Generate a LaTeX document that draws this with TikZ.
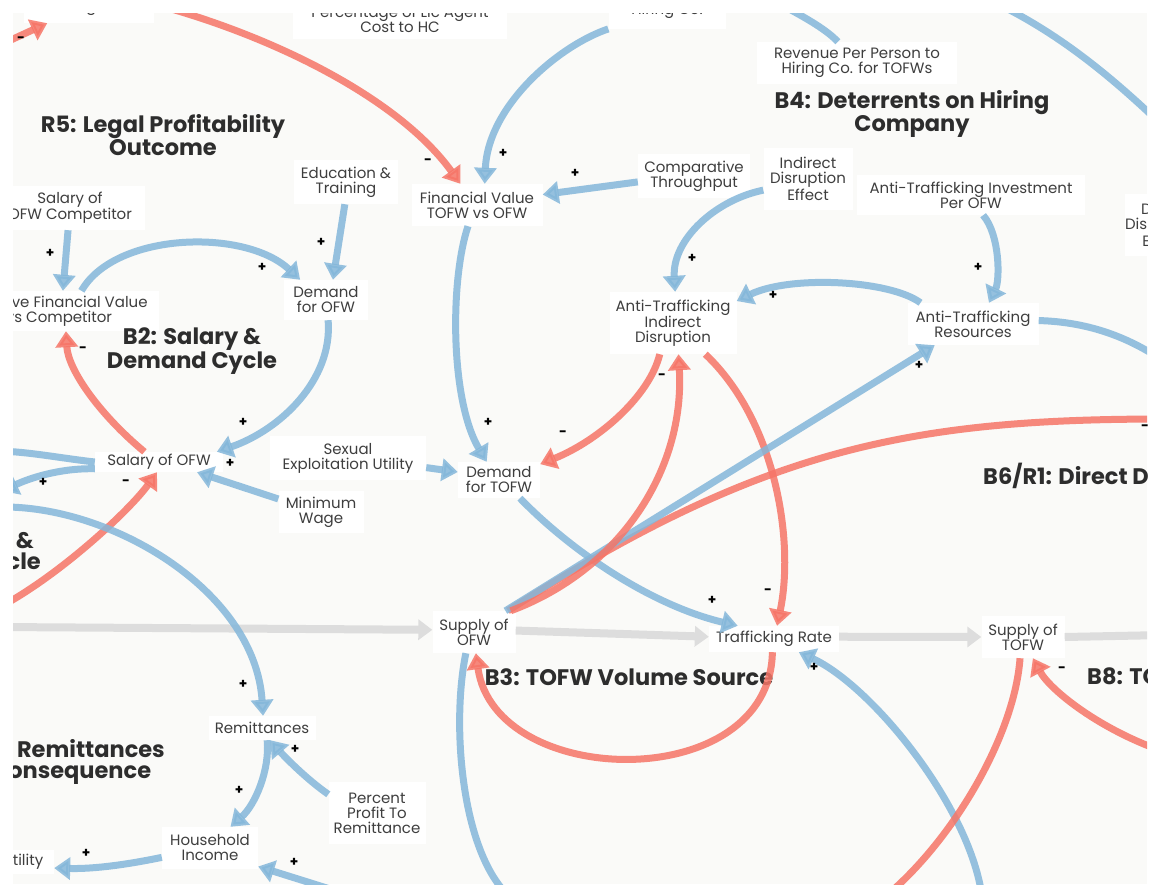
\documentclass[tikz,border=0pt]{standalone}
\usepackage{fontspec}
\setmainfont{Poppins}
\usetikzlibrary{arrows.meta,calc}
\definecolor{bgc}{RGB}{250,250,248}
\definecolor{cblue}{RGB}{132,183,218}
\definecolor{cred}{RGB}{246,117,103}
\definecolor{cgray}{RGB}{221,221,221}
\definecolor{ctext}{RGB}{62,62,62}
\definecolor{ctitle}{RGB}{45,45,45}
\tikzset{
  lnk/.style={line width=7pt, opacity=0.85},
  bl/.style={lnk, draw=cblue, -{Triangle[width=22pt,length=16pt]}},
  rd/.style={lnk, draw=cred, -{Triangle[width=22pt,length=16pt]}},
  blline/.style={lnk, draw=cblue},
  rdline/.style={lnk, draw=cred},
  gr/.style={line width=8pt, draw=cgray, -{Triangle[width=20pt,length=14pt]}},
  grline/.style={line width=8pt, draw=cgray},
  lab/.style={fill=white, text=ctext, font=\fontsize{15}{15}\selectfont, align=center, inner sep=0pt},
  ttl/.style={text=ctitle, font=\fontsize{22.5}{21.5}\selectfont\bfseries, align=center, inner sep=0pt},
  sgn/.style={text=black, font=\fontsize{13.5}{13.5}\selectfont\bfseries, inner sep=0pt}
}
\begin{document}
\begin{tikzpicture}[x=1pt,y=-1pt]
\useasboundingbox (0,0) rectangle (1149,884);
\fill[white] (0,0) rectangle (1149,884);
\fill[bgc] (13,13) rectangle (1147,884);
\begin{scope}
\clip (13,13) rectangle (1147,884);
% ---------- nodes ----------
\node[lab,minimum width=130pt,minimum height=30pt] (hc1) at (89,8) {Hiring Co.};
\node[lab,minimum width=214pt,minimum height=40pt] (pct) at (400,19) {Percentage of Lic Agent\\Cost to HC};
\node[lab,minimum width=117pt,minimum height=36pt] (hc2) at (667,11) {Hiring Co.};
\node[lab,minimum width=200pt,minimum height=42pt] (rev) at (857,63) {Revenue Per Person to\\Hiring Co. for TOFWs};
\node[lab,minimum width=104pt,minimum height=44pt] (edu) at (346,182) {Education \&\\Training};
\node[lab,minimum width=150pt,minimum height=44pt] (scomp) at (70,208) {Salary of\\OFW Competitor};
\node[lab,minimum width=131pt,minimum height=42pt] (fin) at (477,205) {Financial Value\\TOFW vs OFW};
\node[lab,minimum width=112pt,minimum height=44pt] (comp) at (694,176) {Comparative\\Throughput};
\node[lab,minimum width=89pt,minimum height=62pt] (ide) at (808,179) {Indirect\\Disruption\\Effect};
\node[lab,minimum width=228pt,minimum height=40pt] (ati) at (971,195) {Anti-Trafficking Investment\\Per OFW};
\node[lab,minimum width=70pt,minimum height=62pt] (dde) at (1163,225) {Direct\\Disruption\\Effect};
\node[lab,minimum width=200pt,minimum height=40pt] (rfv) at (59,311) {Relative Financial Value\\vs Competitor};
\node[lab,minimum width=84pt,minimum height=40pt] (dof) at (326,300) {Demand\\for OFW};
\node[lab,minimum width=127pt,minimum height=62pt] (atid) at (673,323) {Anti-Trafficking\\Indirect\\Disruption};
\node[lab,minimum width=131pt,minimum height=42pt] (atr) at (973,324) {Anti-Trafficking\\Resources};
\node[lab,minimum width=128pt,minimum height=20pt] (sal) at (159,462) {Salary of OFW};
\node[lab,minimum width=156pt,minimum height=44pt] (sex) at (348,458) {Sexual\\Exploitation Utility};
\node[lab,minimum width=82pt,minimum height=36pt] (dft) at (499,480) {Demand\\for TOFW};
\node[lab,minimum width=85pt,minimum height=42pt] (minw) at (321,512) {Minimum\\Wage};
\node[lab,minimum width=83pt,minimum height=42pt] (sofw) at (474,632) {Supply of\\OFW};
\node[lab,minimum width=130pt,minimum height=26pt] (tr) at (774,639) {Trafficking Rate};
\node[lab,minimum width=83pt,minimum height=42pt] (stofw) at (1023,637) {Supply of\\TOFW};
\node[lab,minimum width=107pt,minimum height=24pt] (rem) at (262,728) {Remittances};
\node[lab,minimum width=97pt,minimum height=62pt] (ppr) at (377,813) {Percent\\Profit To\\Remittance};
\node[lab,minimum width=96pt,minimum height=42pt] (hhi) at (210,848) {Household\\Income};
\node[lab,minimum width=62pt,minimum height=24pt] (util) at (23,862) {Utility};
% ---------- titles ----------
\node[ttl] (tr5) at (163,135) {R5: Legal Profitability\\Outcome};
\node[ttl] (tb4) at (912,114) {B4: Deterrents on Hiring\\Company};
\node[ttl] (tb2) at (192,351) {B2: Salary \&\\Demand Cycle};
\node[ttl,anchor=west] (tb6) at (983,477) {B6/R1: Direct Disruption};
\node[ttl] (tb3) at (629,677) {B3: TOFW Volume Source};
\node[ttl,anchor=west] (tb8) at (1087,679) {B8: TOFW Supply};
\node[ttl,anchor=east] (trc) at (165,762) {B7: Remittances\\Consequence};
\node[ttl,anchor=east,align=right] (tlc) at (41,554) {\&\rule{7pt}{0pt}\\Cycle};
% ---------- free ends ----------
\coordinate (oA) at (0,45);
\coordinate (oB) at (168,8);
\coordinate (oH) at (1165,362);
\coordinate (oI1) at (1000,5);
\coordinate (oI2) at (1165,128);
\coordinate (oJ) at (782,5);
\coordinate (oQ1) at (0,451);
\coordinate (oQ2) at (2,491);
\coordinate (oR) at (0,607);
\coordinate (oS) at (0,507);
\coordinate (oU) at (0,627);
\coordinate (oX) at (1165,635);
\coordinate (oFF) at (1165,419);
\coordinate (oHH) at (503,890);
\coordinate (oII) at (981,890);
\coordinate (oJJ) at (893,890);
\coordinate (oKK) at (1165,752);
\coordinate (oOO) at (330,889);
% ---------- connectors ----------
\draw[grline] (stofw.east) -- (oX);
\draw[gr] (oU) -- (sofw.177);
\draw[gr] (sofw.2) -- (tr.178);
\draw[gr] (tr.2) -- (stofw.west);
\draw[rd] (oA) -- (hc1.200);
\draw[rd] (oB) .. controls (280,40) and (400,100) .. (fin.128);
\draw[bl] (hc2.197) .. controls (560,45) and (488,105) .. (fin.70);
\draw[bl] (comp.186) -- (fin.9);
\draw[bl] (ide.194) .. controls (715,200) and (672,240) .. (atid.86);
\draw[bl] (ati.-59) .. controls (1000,235) and (1000,280) .. (atr.53);
\draw[bl] (atr.158) .. controls (890,280) and (790,275) .. (atid.19);
\draw[blline] (atr.3) .. controls (1090,322) and (1130,338) .. (oH);
\draw[blline] (oI1) .. controls (1060,35) and (1110,75) .. (oI2);
\draw[blline] (rev.132) .. controls (825,28) and (800,15) .. (oJ);
\draw[bl] (scomp.-95) -- (rfv.79);
\draw[bl] (rfv.42) .. controls (115,232) and (245,228) .. (dof.142);
\draw[bl] (edu.-93) -- (dof.71);
\draw[bl] (dof.-84) .. controls (333,380) and (280,430) .. (sal.10);
\draw[rd] (sal.145) .. controls (100,415) and (68,370) .. (rfv.-71);
\draw[bl] (minw.163) -- (sal.-15);
\draw[blline] (sal.west) .. controls (60,458) and (30,452) .. (oQ1);
\draw[bl] (sal.186) .. controls (60,468) and (30,478) .. (oQ2);
\draw[rd] (oR) .. controls (60,575) and (130,510) .. (sal.-101);
\draw[bl] (oS) .. controls (110,505) and (255,590) .. (rem.85);
\draw[bl] (fin.-113) .. controls (450,280) and (450,400) .. (dft.124);
\draw[bl] (sex.-7) -- (dft.169);
\draw[rd] (atid.-113) .. controls (650,395) and (600,440) .. (dft.21);
\draw[rd] (atid.-44) .. controls (775,420) and (795,540) .. (tr.77);
\draw[bl] (dft.-41) .. controls (570,550) and (650,605) .. (tr.160);
\draw[rdline] (sofw.32) .. controls (762,448) and (910,419) .. (oFF);
\draw[bl] (sofw.34) -- (atr.-151);
\draw[rd] (sofw.30) .. controls (620,570) and (685,470) .. (atid.-80);
\draw[rd] (tr.-97) .. controls (770,795) and (495,790) .. (sofw.-85);
\draw[blline] (sofw.-111) .. controls (452,720) and (460,840) .. (oHH);
\draw[bl] (oII) .. controls (965,800) and (870,685) .. (tr.-28);
\draw[rdline] (stofw.-98) .. controls (1015,730) and (960,830) .. (oJJ);
\draw[rd] (oKK) .. controls (1100,730) and (1050,690) .. (stofw.-65);
\draw[bl] (rem.-67) .. controls (270,770) and (255,805) .. (hhi.46);
\draw[bl] (ppr.159) .. controls (305,778) and (283,755) .. (rem.-56);
\draw[bl] (hhi.191) .. controls (120,866) and (90,869) .. (util.-11);
\draw[bl] (oOO) -- (hhi.-21);
% ---------- polarity signs ----------
\foreach \n/\x/\y/\s in {1/21/40/-, 2/428/162/-, 3/503/153/+, 4/575/173/+, 5/692/258/+,
  6/978/267/+, 7/773/295/+, 8/50/253/+, 9/262/267/+, 10/321/242/+, 11/243/422/+,
  12/83/350/-, 13/230/463/+, 14/43/482/+, 15/126/483/-, 16/243/684/+, 17/488/422/+,
  18/563/434/-, 19/662/377/-, 20/768/592/-, 21/712/600/+, 22/919/365/+, 23/1145/428/-,
  24/814/667/+, 25/1062/670/-, 26/239/790/+, 27/295/749/+, 28/86/853/+, 29/294/862/+}
  \node[sgn] (s\n) at (\x,\y) {\s};
\end{scope}
\end{tikzpicture}
\end{document}
